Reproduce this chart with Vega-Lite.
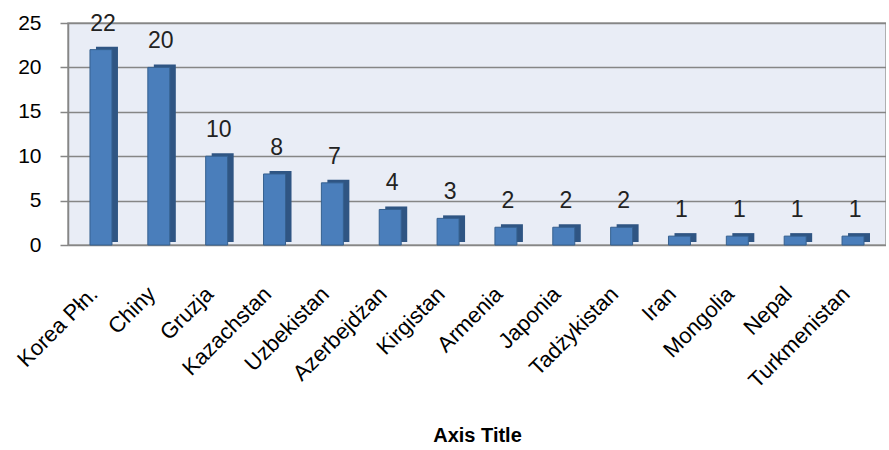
{
  "$schema": "https://vega.github.io/schema/vega-lite/v6.json",
  "width": 818,
  "height": 222,
  "padding": {"left": 13, "right": 0, "top": 12, "bottom": 0},
  "background": "white",
  "config": {
    "font": "Liberation Sans",
    "view": {"fill": "#e9edf6", "stroke": "#9a9a9a", "strokeWidth": 1.5}
  },
  "data": {
    "values": [
      {"kraj": "Korea Płn.", "n": 22},
      {"kraj": "Chiny", "n": 20},
      {"kraj": "Gruzja", "n": 10},
      {"kraj": "Kazachstan", "n": 8},
      {"kraj": "Uzbekistan", "n": 7},
      {"kraj": "Azerbejdżan", "n": 4},
      {"kraj": "Kirgistan", "n": 3},
      {"kraj": "Armenia", "n": 2},
      {"kraj": "Japonia", "n": 2},
      {"kraj": "Tadżykistan", "n": 2},
      {"kraj": "Iran", "n": 1},
      {"kraj": "Mongolia", "n": 1},
      {"kraj": "Nepal", "n": 1},
      {"kraj": "Turkmenistan", "n": 1}
    ]
  },
  "encoding": {
    "x": {
      "field": "kraj", "type": "nominal", "sort": null,
      "scale": {"paddingInner": 0.62, "paddingOuter": 0.38},
      "axis": {
        "title": "Axis Title", "titleFont": "Liberation Sans", "titleFontSize": 20, "titleFontWeight": "bold",
        "titleColor": "#000", "titlePadding": 34,
        "labelAngle": -45, "labelAlign": "right", "labelBaseline": "top",
        "labelFontSize": 22, "labelColor": "#000", "labelPadding": 38, "labelOffset": -14,
        "ticks": false, "domain": false, "labelFont": "Liberation Sans"
      }
    },
    "y": {
      "field": "n", "type": "quantitative",
      "scale": {"domain": [0, 25]},
      "axis": {
        "title": null, "values": [0, 5, 10, 15, 20, 25], "labelFontSize": 21, "labelColor": "#000",
        "gridColor": "#868686", "gridWidth": 1.5, "domainColor": "#868686", "domainWidth": 1.5,
        "tickColor": "#868686", "tickWidth": 1.5,
        "tickSize": 8, "labelPadding": 19
      }
    }
  },
  "layer": [
    {"mark": {"type": "bar", "color": "#2f5583", "xOffset": 6, "yOffset": -3}},
    {"mark": {"type": "bar", "color": "#4a7ebb", "stroke": "#35608f", "strokeWidth": 1}},
    {
      "mark": {"type": "text", "dy": -14, "dx": 2, "fontSize": 23, "color": "#222", "baseline": "bottom"},
      "encoding": {"text": {"field": "n", "type": "quantitative"}}
    }
  ]
}
